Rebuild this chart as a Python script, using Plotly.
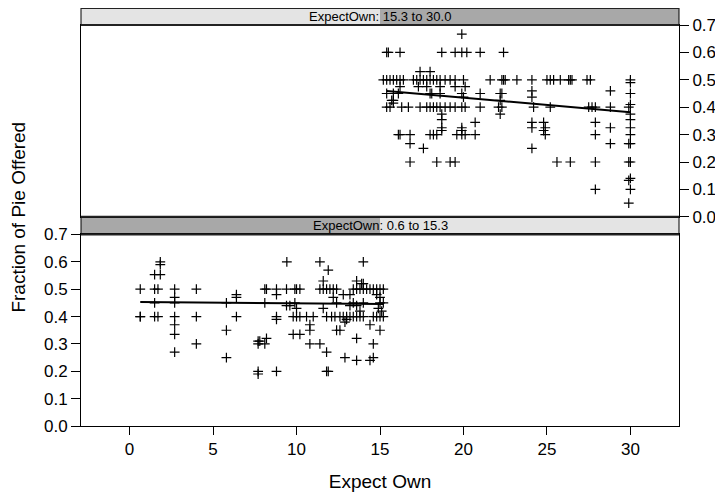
import plotly.graph_objects as go

# ---------------- data ----------------
# Upper panel: ExpectOwn 15.3 to 30.0
top_x = [19.9,
         15.4, 15.5, 16.2, 18.7, 19.5, 19.9, 20.2, 21.0, 22.4,
         17.4, 18.0,
         15.2, 15.4, 15.6, 15.8, 16.0, 16.2, 16.4, 17.0, 17.2, 17.4, 17.6, 17.8, 18.0, 18.2, 18.4, 18.6,
         18.9, 19.2, 19.5, 20.0, 21.6, 22.3, 22.4, 22.5, 23.2, 24.1, 25.0, 25.2, 25.4, 25.8, 26.3, 26.4,
         26.5, 27.4, 27.6, 30.0, 30.0,
         16.2, 17.3, 17.8, 18.6, 19.5, 20.1,
         24.1, 28.8,
         15.4, 15.8, 16.1, 18.0, 18.1, 18.6, 19.9, 21.0, 22.2, 22.3, 30.0,
         20.0, 24.1,
         15.7, 15.8, 22.2,
         15.8,
         15.4, 15.6, 16.3, 16.7, 17.4, 17.8, 18.0, 18.2, 18.4, 18.6, 18.9, 19.2, 19.5, 19.9, 20.1, 21.0,
         22.1, 22.3, 24.2, 25.2, 27.5, 27.7, 27.9, 28.8, 29.9, 30.0,
         18.7, 22.2, 30.0,
         18.7, 30.0,
         20.7, 24.1, 24.8, 27.9,
         18.7, 19.9, 24.1, 24.9, 28.8, 30.0,
         18.7, 19.9, 24.8,
         16.1, 16.2, 16.8, 18.0, 18.2, 18.4, 19.6, 19.9, 20.1, 20.7, 24.9, 27.9, 30.0,
         16.8, 28.8, 29.9, 30.0,
         17.6, 24.1,
         16.8, 18.4, 19.2, 19.5, 25.6, 26.4, 27.9, 29.9, 30.0,
         29.9, 30.0,
         27.9, 30.0,
         29.9]
top_y = [0.667,
         0.6, 0.6, 0.6, 0.6, 0.6, 0.6, 0.6, 0.6, 0.6,
         0.53, 0.53,
         0.5, 0.5, 0.5, 0.5, 0.5, 0.5, 0.5, 0.5, 0.5, 0.5, 0.5, 0.5, 0.5, 0.5, 0.5, 0.5,
         0.5, 0.5, 0.5, 0.5, 0.5, 0.5, 0.5, 0.5, 0.5, 0.5, 0.5, 0.5, 0.5, 0.5, 0.5, 0.5,
         0.5, 0.5, 0.5, 0.5, 0.49,
         0.475, 0.475, 0.475, 0.475, 0.475, 0.475,
         0.46, 0.46,
         0.45, 0.45, 0.45, 0.45, 0.45, 0.45, 0.45, 0.45, 0.45, 0.45, 0.45,
         0.437, 0.437,
         0.425, 0.425, 0.425,
         0.415,
         0.4, 0.4, 0.4, 0.4, 0.4, 0.4, 0.4, 0.4, 0.4, 0.4, 0.4, 0.4, 0.4, 0.4, 0.4, 0.4,
         0.4, 0.4, 0.4, 0.4, 0.4, 0.4, 0.4, 0.4, 0.4, 0.41,
         0.375, 0.375, 0.375,
         0.355, 0.355,
         0.345, 0.345, 0.345, 0.345,
         0.325, 0.325, 0.325, 0.325, 0.325, 0.325,
         0.315, 0.315, 0.315,
         0.3, 0.3, 0.3, 0.3, 0.3, 0.3, 0.3, 0.3, 0.3, 0.3, 0.3, 0.3, 0.3,
         0.267, 0.267, 0.267, 0.267,
         0.25, 0.25,
         0.2, 0.2, 0.2, 0.2, 0.2, 0.2, 0.2, 0.2, 0.2,
         0.133, 0.14,
         0.1, 0.1,
         0.05]

# Lower panel: ExpectOwn 0.6 to 15.3
bot_x = [1.84, 1.84, 9.42, 11.4, 14.0,
         11.9,
         1.5, 1.84,
         11.6, 13.6,
         13.9, 14.0,
         0.64, 1.5, 1.7, 2.7, 4.0, 8.1, 8.2, 8.8, 9.4, 9.9, 10.0, 10.2, 11.4, 11.6, 11.8, 12.0, 12.2,
         12.4, 13.4, 13.6, 13.8, 14.0, 14.2, 14.4, 14.6, 14.8, 15.0, 15.2,
         6.4, 8.8, 12.8, 13.2, 14.8,
         2.7, 6.4, 12.2, 15.0,
         1.5, 2.7, 5.8, 8.1, 9.9, 12.4, 13.4, 14.0, 15.0, 15.2,
         9.4, 9.6, 13.2, 13.6,
         10.0, 11.6, 14.9,
         13.8, 15.1,
         0.64, 0.64, 1.5, 1.7, 2.7, 4.0, 6.4, 8.8, 9.8, 10.0, 10.2, 10.6, 11.0, 11.8, 12.1, 12.3,
         12.6, 12.8, 13.0, 13.2, 13.4, 13.6, 13.8, 14.0, 14.6, 14.8, 15.0, 15.2,
         8.8, 13.0,
         12.9,
         2.7, 10.8, 14.4,
         5.8, 10.8, 12.4, 12.6, 15.0,
         2.7, 9.8, 10.2,
         8.2, 13.6,
         7.7, 7.8,
         4.0, 7.7, 8.1, 10.8, 11.4, 14.6,
         2.7, 11.8,
         5.8, 12.9, 14.6,
         13.6, 14.4,
         7.7, 8.8, 11.8, 11.9,
         7.7]
bot_y = [0.6, 0.59, 0.6, 0.6, 0.6,
         0.57,
         0.553, 0.553,
         0.53, 0.53,
         0.52, 0.52,
         0.5, 0.5, 0.5, 0.5, 0.5, 0.5, 0.5, 0.5, 0.5, 0.5, 0.5, 0.5, 0.5, 0.5, 0.5, 0.5, 0.5,
         0.5, 0.5, 0.5, 0.5, 0.5, 0.5, 0.5, 0.5, 0.5, 0.5, 0.5,
         0.48, 0.48, 0.48, 0.48, 0.48,
         0.47, 0.47, 0.47, 0.47,
         0.45, 0.45, 0.45, 0.45, 0.45, 0.45, 0.45, 0.45, 0.45, 0.45,
         0.44, 0.44, 0.44, 0.44,
         0.43, 0.43, 0.43,
         0.42, 0.42,
         0.4, 0.4, 0.4, 0.4, 0.4, 0.4, 0.4, 0.4, 0.4, 0.4, 0.4, 0.4, 0.4, 0.4, 0.4, 0.4,
         0.4, 0.4, 0.4, 0.4, 0.4, 0.4, 0.4, 0.4, 0.4, 0.4, 0.4, 0.4,
         0.39, 0.39,
         0.38,
         0.37, 0.37, 0.37,
         0.35, 0.35, 0.35, 0.35, 0.35,
         0.335, 0.335, 0.335,
         0.32, 0.32,
         0.31, 0.31,
         0.3, 0.3, 0.3, 0.3, 0.3, 0.3,
         0.27, 0.27,
         0.25, 0.25, 0.25,
         0.24, 0.24,
         0.2, 0.2, 0.2, 0.2,
         0.19]

# fitted lines
top_fit_x = [15.4, 30.0]
top_fit_y = [0.459, 0.382]
bot_fit_x = [0.64, 15.2]
bot_fit_y = [0.453, 0.446]

# shingle levels
levels = [(0.6, 15.3), (15.3, 30.0)]
var_min, var_max = 0.6, 30.0
strip_labels = ["ExpectOwn: 0.6 to 15.3", "ExpectOwn: 15.3 to 30.0"]

x_ticks = [0, 5, 10, 15, 20, 25, 30]
y_ticks = [0.0, 0.1, 0.2, 0.3, 0.4, 0.5, 0.6, 0.7]

# ---------------- figure ----------------
FONT = "Liberation Sans, Arial, sans-serif"
marker = dict(symbol="cross-thin-open", size=7, line=dict(color="black", width=1.2), color="black")

fig = go.Figure()
fig.add_trace(go.Scatter(x=bot_x, y=bot_y, mode="markers", marker=marker, xaxis="x", yaxis="y"))
fig.add_trace(go.Scatter(x=bot_fit_x, y=bot_fit_y, mode="lines", line=dict(color="black", width=2),
                         xaxis="x", yaxis="y"))
fig.add_trace(go.Scatter(x=top_x, y=top_y, mode="markers", marker=marker, xaxis="x2", yaxis="y2"))
fig.add_trace(go.Scatter(x=top_fit_x, y=top_fit_y, mode="lines", line=dict(color="black", width=2),
                         xaxis="x2", yaxis="y2"))

# domains (paper fractions)
bot_dom = [0.0, 0.4582]
top_dom = [0.5004, 0.9593]
strips = [(bot_dom[1], top_dom[0]), (top_dom[1], 1.0)]

LIGHT = "#e4e4e4"
DARK = "#a8a8a8"
shapes = []
annotations = []
for (lo, hi), (y0, y1), lab in zip(levels, strips, strip_labels):
    f0 = (lo - var_min) / (var_max - var_min)
    f1 = (hi - var_min) / (var_max - var_min)
    shapes.append(dict(type="rect", xref="paper", yref="paper", x0=0, x1=1, y0=y0, y1=y1,
                       fillcolor=LIGHT, line=dict(width=0), layer="below"))
    shapes.append(dict(type="rect", xref="paper", yref="paper", x0=f0, x1=f1, y0=y0, y1=y1,
                       fillcolor=DARK, line=dict(width=0), layer="below"))
    shapes.append(dict(type="rect", xref="paper", yref="paper", x0=0, x1=1, y0=y0, y1=y1,
                       fillcolor="rgba(0,0,0,0)", line=dict(color="black", width=1)))
    for yy in (y0, y1):
        shapes.append(dict(type="line", xref="paper", yref="paper", x0=0, x1=1, y0=yy, y1=yy,
                           line=dict(color="#222222", width=2)))
    annotations.append(dict(text=lab, xref="paper", yref="paper", x=0.5, y=(y0 + y1) / 2,
                            showarrow=False, font=dict(family=FONT, size=13, color="black"),
                            xanchor="center", yanchor="middle"))

annotations.append(dict(text="Fraction of Pie Offered", xref="paper", yref="paper",
                        x=-0.106, y=0.5, textangle=-90, showarrow=False,
                        font=dict(family=FONT, size=19, color="black"),
                        xanchor="center", yanchor="middle"))

axis_common = dict(showline=True, linecolor="black", linewidth=1, mirror=True,
                   showgrid=False, zeroline=False, tickcolor="black", automargin=False,
                   tickfont=dict(family=FONT, size=17, color="black"))

# the page body adds an 8px offset, so the figure is 8px smaller than the window
fig.update_layout(
    width=715, height=488,
    margin=dict(l=72.7, r=43.5, t=0, b=70.3, autoexpand=False),
    paper_bgcolor="white", plot_bgcolor="white",
    showlegend=False,
    shapes=shapes, annotations=annotations,
    xaxis=dict(domain=[0, 1], anchor="y", range=[-2.91, 32.91], tickvals=x_ticks,
               ticks="outside", ticklen=8,
               title=dict(text="Expect Own", font=dict(family=FONT, size=19, color="black"), standoff=16),
               **axis_common),
    yaxis=dict(domain=bot_dom, anchor="x", range=[0, 0.7], tickvals=y_ticks, tickformat=".1f",
               ticks="outside", ticklen=9, side="left", **axis_common),
    xaxis2=dict(domain=[0, 1], anchor="y2", range=[-2.91, 32.91], matches="x",
                showticklabels=False, ticks="", **axis_common),
    yaxis2=dict(domain=top_dom, anchor="x2", range=[0, 0.7], tickvals=y_ticks, tickformat=".1f",
                ticks="outside", ticklen=9, side="right", **axis_common),
)

fig.write_html("out.html")
